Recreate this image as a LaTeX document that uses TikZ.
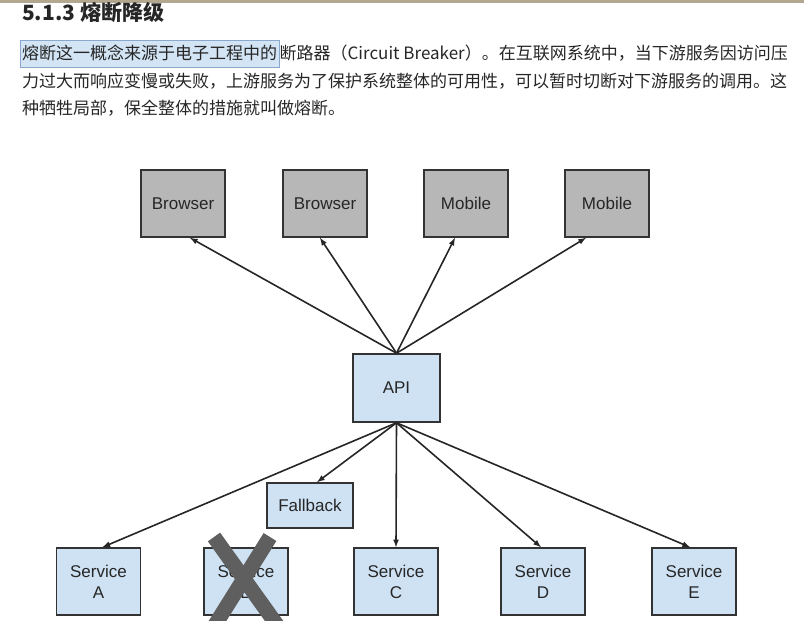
\documentclass[tikz,border=0pt]{standalone}
\usepackage{fontspec}
\usetikzlibrary{arrows}
\usetikzlibrary{positioning}
\newfontfamily\cjk{Noto Sans CJK SC}
\newfontfamily\boxfont{Liberation Sans}
\definecolor{boxgray}{HTML}{B7B7B7}
\definecolor{boxblue}{HTML}{CFE2F3}
\definecolor{edgedark}{HTML}{333333}
\definecolor{hlblue}{HTML}{D3E4F5}
\definecolor{hlborder}{HTML}{8AA8CC}
\definecolor{xgray}{HTML}{5F5F5F}
\definecolor{topbar}{HTML}{B3A88F}

\begin{document}
\begin{tikzpicture}[x=1pt,y=-1pt]
      \tikzstyle{txt}=[font=\cjk\fontsize{17}{28}\selectfont,text=black!85,inner sep=0pt]
      \tikzstyle{client}=[draw=edgedark,line width=1.6pt,fill=boxgray,minimum width=84pt,minimum height=67pt,font=\boxfont\fontsize{17}{21}\selectfont,text=black!85]
      \tikzstyle{svc}=[client,fill=boxblue,align=center]
      \tikzstyle{arr}=[-latex,line width=1.6pt,black!85]
      \useasboundingbox (0,0) rectangle (804,621);
      \fill[topbar] (0,0) rectangle (804,3);

      % text above the picture
      \node[txt,anchor=base west] (title) at (22,20) {\fontsize{21}{24}\selectfont\bfseries 5.1.3 熔断降级};
      \node[txt,anchor=base west,fill=hlblue,draw=hlborder,inner sep=2pt,text height=17pt,text depth=6pt] (l1a) at (20,59) {熔断这一概念来源于电子工程中的};
      \node[txt,anchor=base west] (l1b) at (l1a.base east) {断路器（Circuit Breaker）。在互联网系统中，当下游服务因访问压};
      \node[txt,anchor=base west] (l2) at (22,87) {力过大而响应变慢或失败，上游服务为了保护系统整体的可用性，可以暂时切断对下游服务的调用。这};
      \node[txt,anchor=base west] (l3) at (22,114) {种牺牲局部，保全整体的措施就叫做熔断。};

      % clients
      \node[client] (b1) at (183,203.5) {Browser};
      \node[client] (b2) at (325,203.5) {Browser};
      \node[client] (m1) at (466,203.5) {Mobile};
      \node[client] (m2) at (607,203.5) {Mobile};

      \node[svc,minimum width=87pt,minimum height=68pt] (api) at (396.5,388) {API};
      \node[svc,minimum width=86pt,minimum height=45pt] (fb) at (310,505.5) {Fallback};

      % services
      \node[svc] (sa) at (98.5,581.5) {Service\\A};
      \node[svc] (sb) at (246,581.5) {Service\\B};
      \node[svc] (sc) at (396,581.5) {Service\\C};
      \node[svc] (sd) at (543,581.5) {Service\\D};
      \node[svc] (se) at (694,581.5) {Service\\E};

      \draw[arr] (api.north) -- ([xshift=7pt]b1.south);
      \draw[arr] (api.north) -- ([xshift=-5pt]b2.south);
      \draw[arr] (api.north) -- ([xshift=-11pt]m1.south);
      \draw[arr] (api.north) -- ([xshift=-21pt]m2.south);

      \draw[arr] (api.south) -- ([xshift=4pt]sa.north);
      \draw[arr] (api.south) -- ([xshift=7pt]fb.north);
      \draw[arr] (api.south) -- (sc.north);
      \draw[arr] (api.south) -- ([xshift=-2pt]sd.north);
      \draw[arr] (api.south) -- ([xshift=-4pt]se.north);

      % failed service
      \draw[xgray,line width=15pt] (214,537) -- (277,625);
      \draw[xgray,line width=15pt] (270,537) -- (215,625);
    \end{tikzpicture}
\end{document}
